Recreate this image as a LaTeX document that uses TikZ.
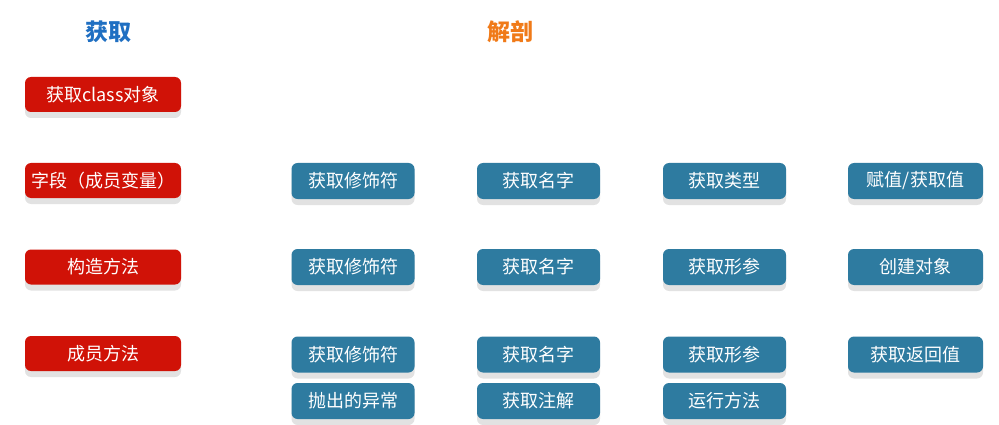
\documentclass[tikz,border=0pt]{standalone}
\usepackage{fontspec}
\setmainfont{Noto Sans CJK SC}
\usetikzlibrary{shadows}
\definecolor{redbox}{HTML}{D01207}
\definecolor{bluebox}{HTML}{2E7BA0}
\definecolor{titleblue}{HTML}{1F6FC2}
\definecolor{titleorange}{HTML}{F07A18}
\definecolor{shadowgray}{HTML}{E2E2E2}
\tikzset{
  basebox/.style={rounded corners=6pt, text=white, font=\fontsize{18}{21}\selectfont,
    inner sep=0pt, outer sep=0pt,
    drop shadow={shadow xshift=0pt, shadow yshift=-6pt, fill=shadowgray, opacity=1}},
  redstep/.style={basebox, fill=redbox, minimum width=156pt, minimum height=35pt},
  bluestep/.style={basebox, fill=bluebox, minimum width=123pt, minimum height=36pt},
  widestep/.style={bluestep, minimum width=135pt},
  titletext/.style={font=\fontsize{23}{26}\selectfont\bfseries}
}
\begin{document}
\begin{tikzpicture}[x=1pt,y=-1pt]
\useasboundingbox (0,0) rectangle (999,425);
\node[titletext, text=titleblue] (t1) at (108,32) {获取};
\node[titletext, text=titleorange] (t2) at (510,32) {解剖};

\node[redstep] (r1) at (103,94.5) {获取class对象};
\node[redstep] (r2) at (103,180.5) {字段（成员变量）};
\node[redstep] (r3) at (103,267) {构造方法};
\node[redstep] (r4) at (103,353.5) {成员方法};

\node[bluestep] (a1) at (353,181) {获取修饰符};
\node[bluestep] (a2) at (538.5,181) {获取名字};
\node[bluestep] (a3) at (724.5,181) {获取类型};
\node[widestep] (a4) at (915.5,181) {赋值/获取值};

\node[bluestep] (b1) at (353,267) {获取修饰符};
\node[bluestep] (b2) at (538.5,267) {获取名字};
\node[bluestep] (b3) at (724.5,267) {获取形参};
\node[widestep] (b4) at (915.5,267) {创建对象};

\node[bluestep] (c1) at (353,354.5) {获取修饰符};
\node[bluestep] (c2) at (538.5,354.5) {获取名字};
\node[bluestep] (c3) at (724.5,354.5) {获取形参};
\node[widestep] (c4) at (915.5,354.5) {获取返回值};

\node[bluestep] (d1) at (353,401) {抛出的异常};
\node[bluestep] (d2) at (538.5,401) {获取注解};
\node[bluestep] (d3) at (724.5,401) {运行方法};
\end{tikzpicture}
\end{document}
